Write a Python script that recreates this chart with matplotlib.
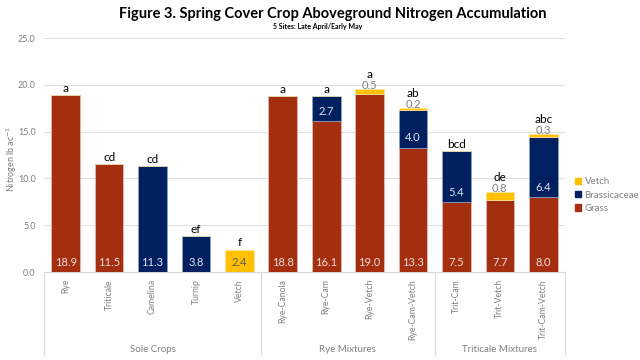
import numpy as np
import matplotlib
matplotlib.use("Agg")
import matplotlib.pyplot as plt
from matplotlib.patches import Patch

plt.rcParams['font.family'] = ['Lato', 'DejaVu Sans']

# Chart data
crops = ["Rye", "Triticale", "Camelina", "Turnip", "Vetch",
         "Rye-Canola", "Rye-Cam", "Rye-Vetch", "Rye-Cam-Vetch",
         "Trit-Cam", "Trit-Vetch", "Trit-Cam-Vetch"]
grass = [18.9, 11.5, 0, 0, 0, 18.8, 16.1, 19.0, 13.3, 7.5, 7.7, 8.0]
brassicaceae = [0, 0, 11.3, 3.8, 0, 0, 2.7, 0, 4.0, 5.4, 0, 6.4]
vetch = [0, 0, 0, 0, 2.4, 0, 0, 0.5, 0.2, 0, 0.8, 0.3]
letters = ["a", "cd", "cd", "ef", "f", "a", "a", "a", "ab", "bcd", "de", "abc"]
groups = ["Sole Crops", "Rye Mixtures", "Triticale Mixtures"]
group_sizes = [5, 4, 3]

c_grass = "#A32F10"
c_brass = "#002060"
c_vetch = "#FFC000"
grey = "#7f7f7f"

fig = plt.figure(figsize=(6.4, 3.6), dpi=100)
ax = fig.add_axes([44/640, 88/360, 521/640, 234/360])

x = np.arange(len(crops))
g = np.array(grass)
b = np.array(brassicaceae)
v = np.array(vetch)
w = 0.66
ax.bar(x, g, w, color=c_grass, edgecolor="#e8c3b8", linewidth=0.5, zorder=3)
ax.bar(x, b, w, bottom=g, color=c_brass, edgecolor="#8fa3c8", linewidth=0.5, zorder=3)
ax.bar(x, v, w, bottom=g + b, color=c_vetch, edgecolor="#ffe7a0", linewidth=0.5, zorder=3)

for i in range(len(crops)):
    total = g[i] + b[i] + v[i]
    if g[i] > 0:
        ax.text(i, 0.45, "%.1f" % g[i], ha="center", va="bottom", color="#f4ddd6", fontsize=8, zorder=4)
    if b[i] > 0:
        ax.text(i, g[i] + 0.45, "%.1f" % b[i], ha="center", va="bottom", color="#dfe4ef", fontsize=8, zorder=4)
    if v[i] > 0 and g[i] + b[i] == 0:
        ax.text(i, 0.45, "%.1f" % v[i], ha="center", va="bottom", color="#595959", fontsize=8, zorder=4)
        top = total + 0.15
    elif v[i] > 0:
        ax.text(i, total - 0.15, "%.1f" % v[i], ha="center", va="bottom", color=grey, fontsize=8, zorder=4)
        top = total + 1.0
    else:
        top = total + 0.15
    ax.text(i, top, letters[i], ha="center", va="bottom", color="black", fontsize=8.5, zorder=4)

ax.set_xlim(-0.5, len(crops) - 0.5)
ax.set_ylim(0, 25)
ax.set_yticks(np.arange(0, 26, 5))
ax.set_yticklabels(["%.1f" % t for t in np.arange(0, 26, 5)], color=grey, fontsize=6.5)
ax.yaxis.grid(True, color="#e0e0e0", linewidth=0.8, zorder=0)
ax.set_xticks(x)
ax.set_xticklabels(crops, rotation=90, color=grey, fontsize=6.2)
ax.tick_params(axis="x", length=0, pad=5)
ax.tick_params(axis="y", length=0, pad=6)
for s in ["top", "right", "left"]:
    ax.spines[s].set_visible(False)
ax.spines["bottom"].set_color("#d9d9d9")
ax.set_ylabel("Nitrogen lb ac$^{-1}$", color=grey, fontsize=6.5)
ax.yaxis.set_label_coords(-0.048, 0.483)

# group separators and labels
trans = ax.get_xaxis_transform()
edges = np.concatenate([[0], np.cumsum(group_sizes)]) - 0.5
for e in edges:
    ax.plot([e, e], [0, -0.355], transform=trans, color="#d9d9d9", linewidth=0.8, clip_on=False)
for k, name in enumerate(groups):
    mid = (edges[k] + edges[k + 1]) / 2
    ax.text(mid, -0.333, name, transform=trans, ha="center", va="center", color=grey, fontsize=7)

handles = [Patch(color=c_vetch, label="Vetch"),
           Patch(color=c_brass, label="Brassicaceae"),
           Patch(color=c_grass, label="Grass")]
leg = fig.legend(handles=handles, loc="center left", bbox_to_anchor=(566/640, 1 - 195/360),
                 frameon=False, fontsize=7, handlelength=0.6, handleheight=0.6,
                 handletextpad=0.4, labelspacing=0.45)
for t in leg.get_texts():
    t.set_color(grey)

fig.text(333/640, 1 - 14/360, "Figure 3. Spring Cover Crop Aboveground Nitrogen Accumulation",
         ha="center", va="center", fontsize=10.5, fontweight="bold")
fig.text(318/640, 1 - 27/360, "5 Sites: Late April/Early May", ha="center", va="center",
         fontsize=5, fontweight="bold")

fig.savefig("out.png", dpi=100)
